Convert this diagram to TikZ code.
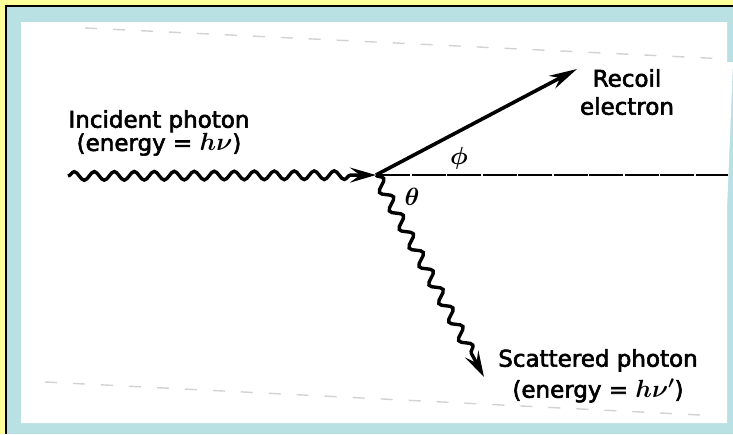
\documentclass[tikz,border=0pt]{standalone}
\usepackage{fontspec}
\setmainfont{DejaVu Sans}
\usepackage{amsmath,amssymb,bm}
\usetikzlibrary{
	arrows.meta,
	calc,
	decorations.pathmorphing,
	positioning
}

\definecolor{frameyellow}{HTML}{FFFF99}
\definecolor{frameblue}{HTML}{B9E0E3}
\definecolor{scangray}{HTML}{D2D2D2}

\tikzset{
	lbl/.style = {font=\fontsize{23}{22}\selectfont\addfontfeature{FakeBold=2.5},
		inner sep=0pt, align=center},
	photon/.style = {line width=3.4pt, decorate,
		decoration={snake, amplitude=4.3pt, segment length=20pt, post length=22pt},
		-{Stealth[length=26pt, width=15pt, inset=10pt]}},
	electron/.style = {line width=3.6pt, -{Stealth[length=28pt, width=14pt, inset=9pt]}},
	axisline/.style = {line width=2.4pt, dash pattern=on 34pt off 1.5pt},
	scanline/.style = {scangray, line width=1.4pt, dash pattern=on 12pt off 16pt}
}

\begin{document}
\begin{tikzpicture}[x=1pt, y=-1pt]
	\useasboundingbox (0,0) rectangle (733,434);

	% frame
	\fill[frameyellow] (0,0) rectangle (733,434);
	\fill[frameblue] (6,6) rectangle (733,434);
	\draw[line width=2pt] (6,434) -- (6,6) -- (733,6);

	% scanned page
	\fill[white] (21,22) -- (727,22) -- (727,62) -- (733,62)
		-- (727,210) -- (727,423) -- (21,423) -- cycle;
	\draw[scanline] (85,28) -- (727,59);
	\draw[scanline] (45,382) -- (700,415);

	\coordinate (O) at (376,175);
	\coordinate (inc) at (68,176);
	\coordinate (rec) at (577,69);
	\coordinate (sca) at (484,377);
	\coordinate (ref) at (728,175);

	\draw[axisline] (O) -- (ref);
	\draw[photon] (inc) -- (O);
	\draw[photon, decoration={amplitude=5.2pt, segment length=21pt}] (O) -- (sca);
	\draw[electron] (O) -- (rec);

	\node[lbl, anchor=north] (incl) at (159,110) {Incident photon\\(energy = $\bm{h\nu}$)};
	\node[lbl, anchor=north, font=\fontsize{23}{28}\selectfont\addfontfeature{FakeBold=2.5}]
		(recl) at (627,69) {Recoil\\electron};
	\node[lbl, anchor=north, font=\fontsize{23}{31}\selectfont\addfontfeature{FakeBold=2.5}]
		(scal) at (598,349) {Scattered photon\\(energy = $\bm{h\nu'}$)};

	\node[lbl] (phi) at (459,158) {$\bm{\phi}$};
	\node[lbl] (theta) at (412,197) {$\bm{\theta}$};

\end{tikzpicture}
\end{document}
